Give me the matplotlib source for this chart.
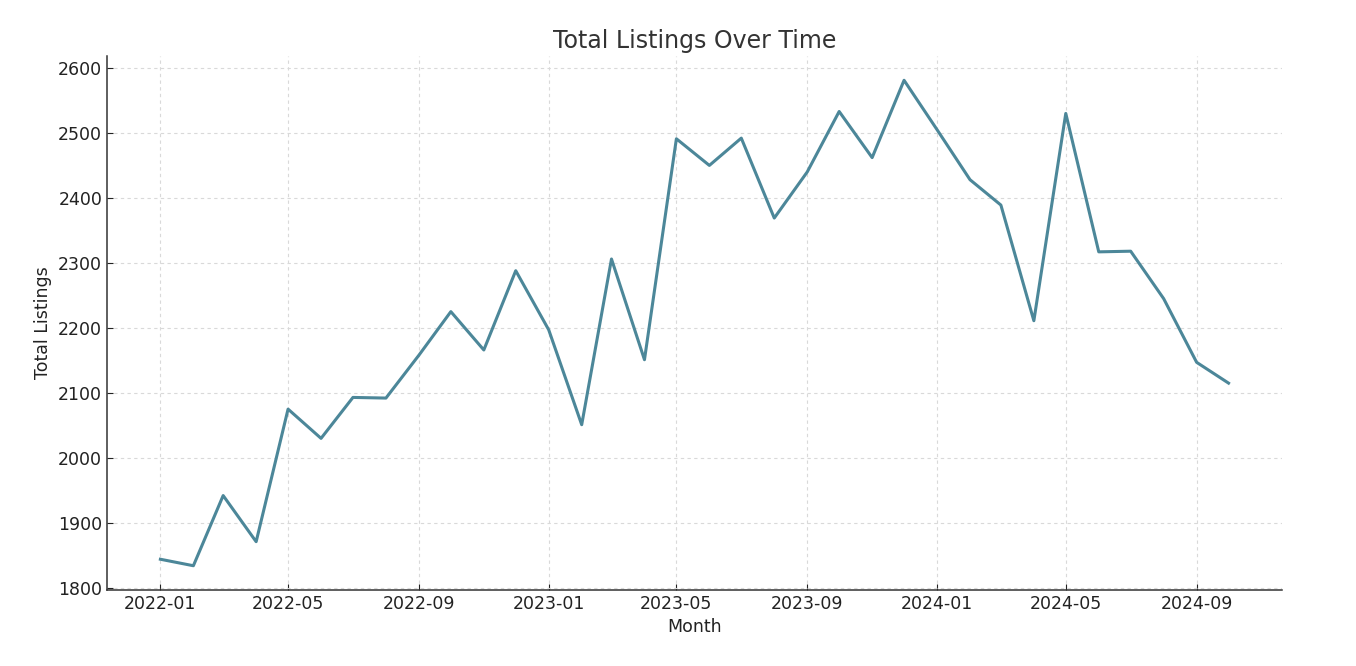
import numpy as np
import pandas as pd
import matplotlib
matplotlib.use('Agg')
import matplotlib.pyplot as plt
import matplotlib.dates as mdates

# Monthly totals
months = pd.date_range('2022-01-01', '2024-10-01', freq='MS')
listings = [1844, 1834, 1942, 1871, 2075, 2030, 2093, 2092, 2158, 2225, 2166, 2288,
            2197, 2051, 2306, 2151, 2491, 2450, 2492, 2369, 2440, 2533, 2462, 2581,
            2505, 2428, 2389, 2211, 2530, 2317, 2318, 2245, 2147, 2115]

fig = plt.figure(figsize=(13.56, 6.66), dpi=100)
ax = fig.add_axes([0.0789, 0.1141, 0.8665, 0.8018])

ax.plot(months, listings, color='#4C8799', linewidth=2.2)

ax.set_title('Total Listings Over Time', fontsize=17, color='#333333')
ax.set_xlabel('Month', fontsize=12.5, color='#222222')
ax.set_ylabel('Total Listings', fontsize=12.5, color='#222222')

ax.xaxis.set_major_locator(mdates.MonthLocator(bymonth=[1, 5, 9]))
ax.xaxis.set_major_formatter(mdates.DateFormatter('%Y-%m'))
ax.tick_params(direction='in', labelsize=12.5, colors='#222222', length=4)

ax.grid(True, linestyle=(0, (3, 3)), color='#d9d9d9', linewidth=0.8)
ax.spines['top'].set_visible(False)
ax.spines['right'].set_visible(False)
for s in ('left', 'bottom'):
    ax.spines[s].set_color('#333333')
    ax.spines[s].set_linewidth(1.1)

plt.savefig('out.png', dpi=100)
